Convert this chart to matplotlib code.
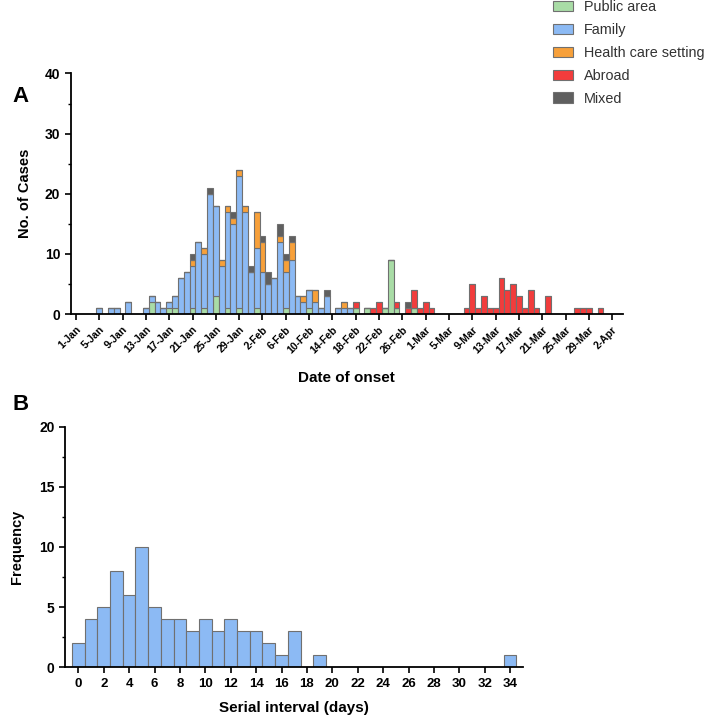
import numpy as np
import pandas as pd
import matplotlib
matplotlib.use('Agg')
import matplotlib.pyplot as plt
from matplotlib.ticker import MultipleLocator

plt.rcParams['font.family'] = ['Liberation Sans', 'DejaVu Sans']

# panel A: cases by date of onset and source of infection
onset_days = ['5-Jan', '7-Jan', '8-Jan', '10-Jan', '13-Jan', '14-Jan', '15-Jan', '16-Jan',
              '17-Jan', '18-Jan', '19-Jan', '20-Jan', '21-Jan', '22-Jan', '23-Jan', '24-Jan',
              '25-Jan', '26-Jan', '27-Jan', '28-Jan', '29-Jan', '30-Jan', '31-Jan', '1-Feb',
              '2-Feb', '3-Feb', '4-Feb', '5-Feb', '6-Feb', '7-Feb', '8-Feb', '9-Feb',
              '10-Feb', '11-Feb', '12-Feb', '13-Feb', '15-Feb', '16-Feb', '17-Feb', '18-Feb',
              '20-Feb', '21-Feb', '22-Feb', '23-Feb', '24-Feb', '25-Feb', '27-Feb', '28-Feb',
              '29-Feb', '1-Mar', '2-Mar', '8-Mar', '9-Mar', '10-Mar', '11-Mar', '12-Mar',
              '13-Mar', '14-Mar', '15-Mar', '16-Mar', '17-Mar', '18-Mar', '19-Mar', '20-Mar',
              '22-Mar', '27-Mar', '28-Mar', '29-Mar', '31-Mar']
public = [0, 0, 0, 0, 0, 2, 0, 0, 1, 1, 0, 0, 1, 0, 1, 0, 3, 0, 1, 0, 1, 0, 0, 1,
          0, 0, 0, 0, 1, 0, 0, 0, 1, 0, 0, 0, 0, 0, 0, 1, 1, 0, 0, 1, 9, 1, 0, 1,
          0, 0, 0, 0, 0, 0, 0, 0, 0, 0, 0, 0, 0, 0, 0, 0, 0, 0, 0, 0, 0]
family = [1, 1, 1, 2, 1, 1, 2, 1, 1, 2, 6, 7, 7, 12, 9, 20, 15, 8, 16, 15, 22, 17, 7, 10,
          7, 5, 6, 12, 6, 9, 3, 2, 3, 2, 1, 3, 1, 1, 1, 0, 0, 0, 0, 0, 0, 0, 0, 0,
          0, 0, 0, 0, 0, 0, 0, 0, 0, 0, 0, 0, 0, 0, 0, 0, 0, 0, 0, 0, 0]
health = [0, 0, 0, 0, 0, 0, 0, 0, 0, 0, 0, 0, 1, 0, 1, 0, 0, 1, 1, 1, 1, 1, 0, 6,
          5, 0, 0, 1, 2, 3, 0, 1, 0, 2, 0, 0, 0, 1, 0, 0, 0, 0, 0, 0, 0, 0, 0, 0,
          0, 0, 0, 0, 0, 0, 0, 0, 0, 0, 0, 0, 0, 0, 0, 0, 0, 0, 0, 0, 0]
abroad = [0, 0, 0, 0, 0, 0, 0, 0, 0, 0, 0, 0, 0, 0, 0, 0, 0, 0, 0, 0, 0, 0, 0, 0,
          0, 0, 0, 0, 0, 0, 0, 0, 0, 0, 0, 0, 0, 0, 0, 1, 0, 1, 2, 0, 0, 1, 1, 3,
          1, 2, 1, 1, 5, 1, 3, 1, 1, 6, 4, 5, 3, 1, 4, 1, 3, 1, 1, 1, 1]
mixed = [0, 0, 0, 0, 0, 0, 0, 0, 0, 0, 0, 0, 1, 0, 0, 1, 0, 0, 0, 1, 0, 0, 1, 0,
         1, 2, 0, 2, 1, 1, 0, 0, 0, 0, 0, 1, 0, 0, 0, 0, 0, 0, 0, 0, 0, 0, 1, 0,
         0, 0, 0, 0, 0, 0, 0, 0, 0, 0, 0, 0, 0, 0, 0, 0, 0, 0, 0, 0, 0]
categories = ['Public area', 'Family', 'Health care setting', 'Abroad', 'Mixed']
cat_colors = ['#a9dca6', '#8cbaf4', '#f7a03a', '#f23c3c', '#5f5f5f']

# panel B: serial interval histogram
serial_days = np.arange(0, 35)
serial_freq = [2, 4, 5, 8, 6, 10, 5, 4, 4, 3, 4, 3, 4, 3, 3, 2, 1, 3, 0, 1,
               0, 0, 0, 0, 0, 0, 0, 0, 0, 0, 0, 0, 0, 0, 1]

start = pd.Timestamp('2020-01-01')
day_num = np.array([(pd.Timestamp(d + '-2020') - start).days for d in onset_days])
tick_dates = pd.date_range('2020-01-01', '2020-04-02', freq='4D')
tick_labels = ['{0}-{1}'.format(t.day, t.strftime('%b')) for t in tick_dates]
tick_pos = [(t - start).days for t in tick_dates]

edge = '#707070'
W, H = 709, 718
fig = plt.figure(figsize=(7.09, 7.18), dpi=100)

# ---- panel A
ax1 = fig.add_axes([70.7 / W, 1 - 314 / H, (623 - 70.7) / W, (314 - 73.5) / H])
bottom = np.zeros(len(onset_days))
handles = []
for name, vals, col in zip(categories, [public, family, health, abroad, mixed], cat_colors):
    vals = np.array(vals)
    b = ax1.bar(day_num, vals, width=1.0, bottom=bottom, color=col, edgecolor=edge,
                linewidth=0.8, label=name)
    handles.append(b)
    bottom += vals
ax1.set_xlim(-0.9, 93.85)
ax1.set_ylim(0, 40)
ax1.set_xticks(tick_pos)
ax1.set_xticklabels(tick_labels, rotation=45, ha='right', rotation_mode='anchor',
                    fontsize=7.5, fontweight='bold')
ax1.yaxis.set_major_locator(MultipleLocator(10))
ax1.yaxis.set_minor_locator(MultipleLocator(5))
ax1.set_ylabel('No. of Cases', fontsize=10.5, fontweight='bold', labelpad=9)
ax1.set_xlabel('Date of onset', fontsize=11, fontweight='bold', labelpad=11)

# ---- panel B
ax2 = fig.add_axes([65 / W, 1 - 667.3 / H, (523.3 - 65) / W, (667.3 - 426.7) / H])
ax2.bar(serial_days, serial_freq, width=1.0, color='#8cbaf4', edgecolor=edge, linewidth=0.8)
ax2.set_xlim(-1.05, 35.04)
ax2.set_ylim(0, 20)
ax2.xaxis.set_major_locator(MultipleLocator(2))
ax2.yaxis.set_major_locator(MultipleLocator(5))
ax2.yaxis.set_minor_locator(MultipleLocator(2.5))
ax2.set_ylabel('Frequency', fontsize=10.5, fontweight='bold', labelpad=11)
ax2.set_xlabel('Serial interval (days)', fontsize=11, fontweight='bold', labelpad=8)

for ax in (ax1, ax2):
    ax.spines['top'].set_visible(False)
    ax.spines['right'].set_visible(False)
    ax.spines['left'].set_linewidth(1.3)
    ax.spines['bottom'].set_linewidth(1.3)
    ax.tick_params(axis='both', which='major', length=4, width=1.2)
    ax.tick_params(axis='y', which='minor', length=2.5, width=1.0)
    for lab in ax.get_yticklabels():
        lab.set_fontweight('bold')
        lab.set_fontsize(10)
for lab in ax2.get_xticklabels():
    lab.set_fontweight('bold')
    lab.set_fontsize(9.5)

fig.legend(handles=handles, labels=categories, loc='upper left',
           bbox_to_anchor=(553 / W, 1.0), frameon=False, fontsize=10.4,
           borderpad=0, borderaxespad=0, labelspacing=0.62, handlelength=1.4,
           handleheight=0.75, handletextpad=0.75, labelcolor='#333333')

fig.text(12 / W, 1 - 97 / H, 'A', fontsize=16, fontweight='bold', va='center')
fig.text(12 / W, 1 - 405 / H, 'B', fontsize=16, fontweight='bold', va='center')

fig.savefig('out.png', dpi=100)
